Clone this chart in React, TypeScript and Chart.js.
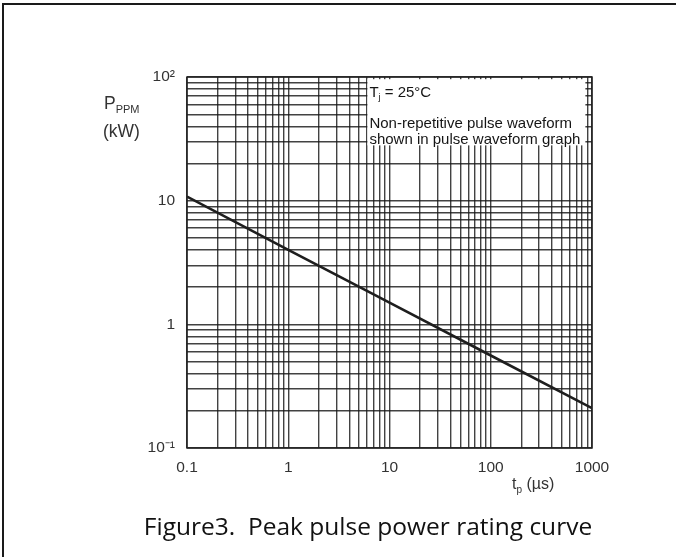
import React, { useEffect, useRef } from 'react';
import { Chart, registerables } from 'chart.js';

Chart.register(...registerables);

// ---- data ----
const pulseWidthUs = [0.1, 1, 10, 100, 1000];
const peakPowerKw = [10.8, 4.0, 1.5, 0.56, 0.21];

const xGridValues = [
  0.1, 0.2, 0.3, 0.4, 0.5, 0.6, 0.7, 0.8, 0.9,
  1, 2, 3, 4, 5, 6, 7, 8, 9,
  10, 20, 30, 40, 50, 60, 70, 80, 90,
  100, 200, 300, 400, 500, 600, 700, 800, 900,
  1000,
];
const yGridValues = [
  0.1, 0.2, 0.3, 0.4, 0.5, 0.6, 0.7, 0.8, 0.9,
  1, 2, 3, 4, 5, 6, 7, 8, 9,
  10, 20, 30, 40, 50, 60, 70, 80, 90,
  100,
];
const xTickValues = [0.1, 1, 10, 100, 1000];
const xTickLabels = ['0.1', '1', '10', '100', '1000'];
const yTickValues = [0.1, 1, 10, 100];
const yTickLabels = ['10\u207B\u00B9', '1', '10', '10\u00B2'];

const captionText = 'Figure3.  Peak pulse power rating curve';
const noteLine1 = ' = 25\u00B0C';
const noteLine2 = 'Non-repetitive pulse waveform';
const noteLine3 = 'shown in pulse waveform graph';

const AXIS_FONT = '"Liberation Sans", Arial, sans-serif';
const TEXT_COLOR = '#333';
const GRID_COLOR = 'rgba(25,25,25,0.82)';

const decorPlugin = {
  id: 'decor',
  beforeDatasetsDraw(chart: any) {
    const ctx = chart.ctx as CanvasRenderingContext2D;
    const xs = chart.scales.x;
    const ys = chart.scales.y;
    ctx.save();
    // note box (white)
    const bx0 = xs.getPixelForValue(6.05);
    const bx1 = xs.getPixelForValue(860);
    const by0 = ys.getPixelForValue(96);
    const by1 = ys.getPixelForValue(28);
    ctx.fillStyle = '#fff';
    ctx.fillRect(bx0, by0, bx1 - bx0, by1 - by0);
    ctx.fillStyle = '#151515';
    ctx.textBaseline = 'alphabetic';
    ctx.textAlign = 'left';
    ctx.font = `15px ${AXIS_FONT}`;
    const tx = bx0 + 2;
    ctx.fillText('T', tx, by0 + 18);
    const tw = ctx.measureText('T').width;
    ctx.font = `9px ${AXIS_FONT}`;
    ctx.fillText('j', tx + tw, by0 + 21);
    const jw = ctx.measureText('j').width;
    ctx.font = `15px ${AXIS_FONT}`;
    ctx.fillText(noteLine1, tx + tw + jw, by0 + 18);
    ctx.fillText(noteLine2, tx, by0 + 49);
    ctx.fillText(noteLine3, tx, by0 + 65);
    ctx.restore();
  },
  afterDraw(chart: any) {
    const ctx = chart.ctx as CanvasRenderingContext2D;
    const a = chart.chartArea;
    ctx.save();
    // plot frame
    ctx.strokeStyle = '#222';
    ctx.lineWidth = 1.5;
    ctx.strokeRect(a.left, a.top, a.right - a.left, a.bottom - a.top);
    // outer frame (top + left)
    ctx.lineWidth = 2;
    ctx.strokeStyle = '#1a1a1a';
    ctx.beginPath();
    ctx.moveTo(676, 4);
    ctx.lineTo(3, 4);
    ctx.lineTo(3, 557);
    ctx.stroke();

    ctx.fillStyle = TEXT_COLOR;
    ctx.textBaseline = 'alphabetic';
    ctx.textAlign = 'left';
    // y title
    ctx.font = `17.5px ${AXIS_FONT}`;
    ctx.fillText('P', 104, 109);
    const pw = ctx.measureText('P').width;
    ctx.font = `11px ${AXIS_FONT}`;
    ctx.fillText('PPM', 104 + pw, 113);
    ctx.font = `17.5px ${AXIS_FONT}`;
    ctx.fillText('(kW)', 103, 137);
    // x title
    ctx.font = `16px ${AXIS_FONT}`;
    ctx.fillText('t', 512, 489);
    const tw = ctx.measureText('t').width;
    ctx.font = `10px ${AXIS_FONT}`;
    ctx.fillText('p', 512 + tw, 493);
    const pw2 = ctx.measureText('p').width;
    ctx.font = `16px ${AXIS_FONT}`;
    ctx.fillText(' (\u00B5s)', 512 + tw + pw2, 489);
    // caption
    ctx.fillStyle = '#111';
    ctx.font = `24.5px "Open Sans", "Noto Sans", sans-serif`;
    ctx.textAlign = 'center';
    ctx.textBaseline = 'middle';
    ctx.fillText(captionText, 368, 528);
    ctx.restore();
  },
};

export default function App() {
  const ref = useRef<HTMLCanvasElement | null>(null);
  useEffect(() => {
    if (!ref.current) return;
    const chart = new Chart(ref.current, {
      type: 'line',
      data: {
        datasets: [
          {
            data: pulseWidthUs.map((x, i) => ({ x, y: peakPowerKw[i] })),
            borderColor: '#1e1e1e',
            borderWidth: 2.6,
            pointRadius: 0,
            tension: 0,
            fill: false,
          },
        ],
      },
      options: {
        animation: false,
        responsive: false,
        devicePixelRatio: 1,
        layout: { padding: { top: 77, right: 84, left: 0, bottom: 0 } },
        plugins: { legend: { display: false }, tooltip: { enabled: false } },
        scales: {
          x: {
            type: 'logarithmic',
            min: 0.1,
            max: 1000,
            afterBuildTicks: (s: any) => {
              s.ticks = xGridValues.map((v) => ({ value: v }));
            },
            afterFit: (s: any) => {
              s.height = 109;
            },
            grid: { color: GRID_COLOR, lineWidth: 1.4, drawTicks: false },
            border: { display: false },
            ticks: {
              autoSkip: false,
              maxRotation: 0,
              padding: 10,
              color: TEXT_COLOR,
              font: { family: AXIS_FONT, size: 15.5 },
              callback: (v: any) => {
                const i = xTickValues.indexOf(Number(v));
                return i >= 0 ? xTickLabels[i] : '';
              },
            },
          },
          y: {
            type: 'logarithmic',
            min: 0.1,
            max: 100,
            afterBuildTicks: (s: any) => {
              s.ticks = yGridValues.map((v) => ({ value: v }));
            },
            afterFit: (s: any) => {
              s.width = 187;
            },
            grid: { color: GRID_COLOR, lineWidth: 1.4, drawTicks: false },
            border: { display: false },
            ticks: {
              autoSkip: false,
              padding: 12,
              color: TEXT_COLOR,
              font: { family: AXIS_FONT, size: 15.5 },
              callback: (v: any) => {
                const i = yTickValues.indexOf(Number(v));
                return i >= 0 ? yTickLabels[i] : '';
              },
            },
          },
        },
      },
      plugins: [decorPlugin],
    });
    return () => chart.destroy();
  }, []);
  return (
    <div style={{ position: 'fixed', left: 0, top: 0, width: 676, height: 557, background: '#fff' }}>
      <canvas ref={ref} width={676} height={557} style={{ width: 676, height: 557 }} />
    </div>
  );
}
